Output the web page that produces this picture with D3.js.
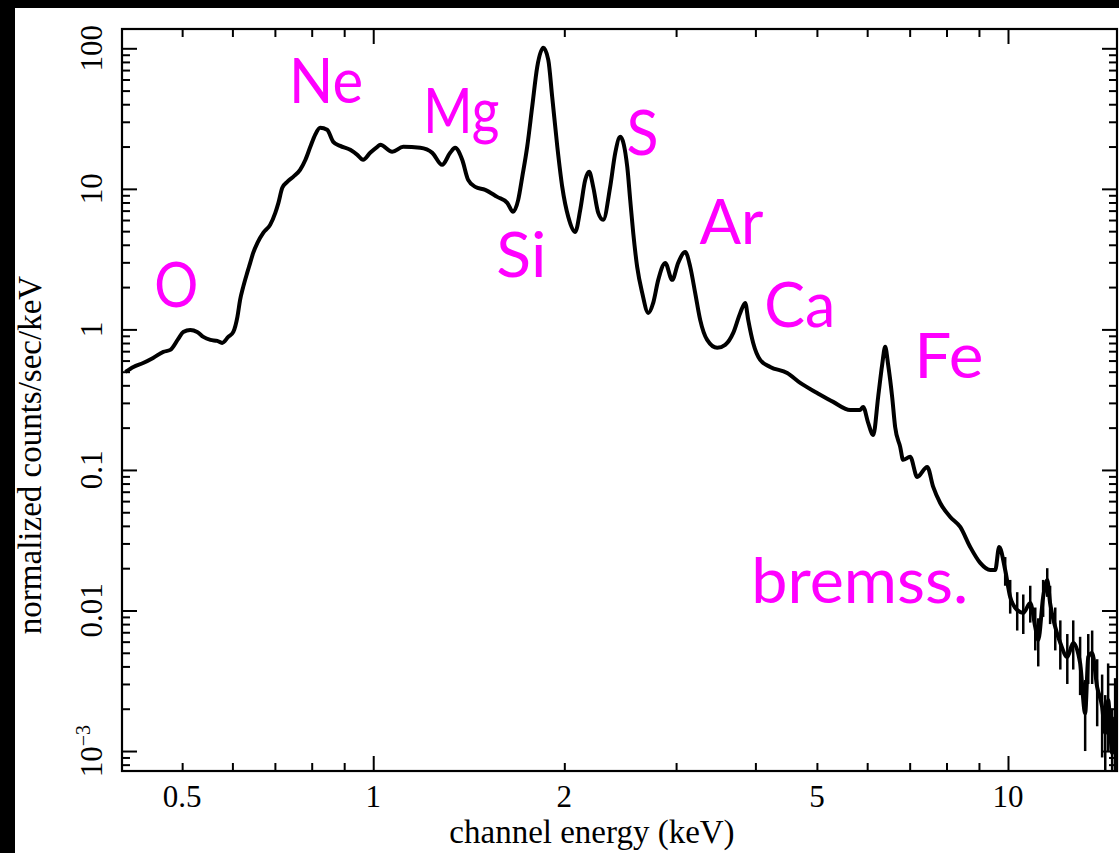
<!DOCTYPE html>
<html>
<head>
<meta charset="utf-8">
<script src="https://cdn.jsdelivr.net/npm/d3@7"></script>
<style>
  html, body { margin: 0; padding: 0; background: #000; }
  svg { display: block; }
</style>
</head>
<body>
<svg id="chart" width="1119" height="853"></svg>
<script>
// X-ray spectrum: channel energy (keV) vs normalized counts/sec/keV
const energy = [
  0.407, 0.419, 0.434, 0.450, 0.467, 0.479, 0.493, 0.502, 0.515, 0.528,
  0.540, 0.554, 0.568, 0.578, 0.591, 0.602, 0.611, 0.617, 0.624, 0.633,
  0.640, 0.647, 0.657, 0.671, 0.688, 0.701, 0.709, 0.719, 0.732, 0.748,
  0.767, 0.782, 0.796, 0.810, 0.825, 0.846, 0.865, 0.887, 0.920, 0.944,
  0.964, 0.989, 1.015, 1.026, 1.071, 1.115, 1.186, 1.239, 1.284, 1.322,
  1.346, 1.381, 1.411, 1.448, 1.501, 1.568, 1.626, 1.661, 1.692, 1.717,
  1.748, 1.780, 1.813, 1.853, 1.887, 1.914, 1.950, 1.985, 2.029, 2.081,
  2.119, 2.158, 2.189, 2.221, 2.262, 2.303, 2.362, 2.406, 2.450, 2.513,
  2.540, 2.568, 2.605, 2.653, 2.712, 2.761, 2.812, 2.884, 2.958, 3.023,
  3.101, 3.158, 3.215, 3.274, 3.358, 3.483, 3.585, 3.691, 3.786, 3.855,
  3.897, 3.968, 4.070, 4.221, 4.489, 4.706, 5.005, 5.304, 5.641, 5.850,
  5.913, 6.022, 6.133, 6.244, 6.335, 6.405, 6.475, 6.569, 6.641, 6.763,
  6.836, 7.012, 7.195, 7.460, 7.624, 7.820, 8.110, 8.409, 8.719, 9.041,
  9.376, 9.546, 9.685, 9.899, 10.08, 10.34, 10.57, 10.84, 11.04, 11.16,
  11.36, 11.53, 11.65, 11.87, 12.09, 12.40, 12.67, 12.99, 13.23, 13.38,
  13.57, 13.82, 14.07, 14.23, 14.38, 14.59, 14.75
];
const counts = [
  0.498, 0.541, 0.577, 0.627, 0.692, 0.715, 0.856, 0.960, 0.992, 0.960,
  0.884, 0.842, 0.828, 0.801, 0.884, 0.960, 1.227, 1.622, 2.007, 2.524,
  2.973, 3.503, 4.128, 4.862, 5.544, 6.749, 7.951, 10.17, 11.21, 12.17,
  13.65, 16.09, 19.90, 24.23, 27.19, 26.30, 21.60, 20.23, 18.95, 17.46,
  16.09, 18.04, 19.90, 20.57, 18.34, 19.90, 19.58, 18.04, 14.82, 18.04,
  19.58, 16.09, 11.59, 10.33, 9.84, 8.77, 7.95, 6.86, 8.35, 12.17,
  19.90, 38.34, 73.85, 100.8, 82.8, 45.15, 19.90, 10.33, 6.32, 4.94,
  7.09, 11.59, 13.21, 10.33, 6.75, 6.02, 10.33, 18.04, 23.45, 14.34,
  8.35, 4.86, 2.785, 1.819, 1.310, 1.544, 2.251, 2.973, 2.251, 2.973,
  3.561, 2.785, 1.819, 1.169, 0.842, 0.739, 0.776, 0.944, 1.310, 1.544,
  1.169, 0.801, 0.607, 0.541, 0.490, 0.416, 0.353, 0.305, 0.267, 0.267,
  0.281, 0.216, 0.177, 0.331, 0.559, 0.751, 0.559, 0.331, 0.202, 0.146,
  0.118, 0.124, 0.0892, 0.105, 0.0757, 0.0582, 0.0463, 0.0393, 0.0283, 0.0218,
  0.0194, 0.0194, 0.0283, 0.0194, 0.01248, 0.01008, 0.00960, 0.01131, 0.00763, 0.00617,
  0.01248, 0.01649, 0.01131, 0.00763, 0.00587, 0.00467, 0.00587, 0.00423, 0.00186, 0.00467,
  0.00498, 0.00285, 0.00206, 0.00134, 0.00231, 0.000968, 0.00175
];

// 1-sigma error bars for the faint high-energy channels
const errEnergy = [
  9.899, 10.08, 10.34, 10.57, 10.84, 11.04, 11.16, 11.36, 11.53, 11.65,
  11.87, 12.09, 12.40, 12.67, 12.99, 13.23, 13.38, 13.57, 13.82, 14.07,
  14.23, 14.38, 14.59, 14.75
];
const errLow = [
  0.0150, 0.0095, 0.0072, 0.0068, 0.0082, 0.0052, 0.0040, 0.0090, 0.0125, 0.0080,
  0.0052, 0.0038, 0.0030, 0.0038, 0.0025, 0.0010, 0.0030, 0.0030, 0.0015, 0.0009,
  0.0005, 0.0010, 0.0003, 0.0006
];
const errHigh = [
  0.0240, 0.0165, 0.0135, 0.0130, 0.0150, 0.0105, 0.0088, 0.0165, 0.0200, 0.0150,
  0.0105, 0.0085, 0.0068, 0.0085, 0.0065, 0.0032, 0.0068, 0.0072, 0.0045, 0.0035,
  0.0025, 0.0042, 0.0020, 0.0033
];

// axis ticks
const xTickLabels = [0.5, 1, 2, 5, 10];
const xMajorTicks = [1, 10];
const yTickLabels = [100, 10, 1, 0.1, 0.01, 0.001];

// emission-line annotations, anchored at (energy, counts)
const lineNames = ["O", "Ne", "Mg", "Si", "S", "Ar", "Ca", "Fe", "bremss."];
const lineLabelEnergy = [0.452, 0.737, 1.199, 1.563, 2.505, 3.265, 4.132, 7.12, 3.94];
const lineLabelCounts = [1.446, 40.9, 25.0, 2.364, 17.46, 4.06, 1.042, 0.4516, 0.01131];
const lineLabelWidth = [44, 74, 76, 50, 32, 64, 71, 69, 217];

const svg = d3.select("#chart");
const W = 1119, H = 853;

// white page inside a black border on the top and left
svg.append("rect").attr("x", 15).attr("y", 8).attr("width", W - 15).attr("height", H - 8).attr("fill", "#fff");

const plot = { left: 122, right: 1117, top: 29, bottom: 771 };

const x = d3.scaleLog().domain([0.402, 14.85]).range([plot.left, plot.right]);
const y = d3.scaleLog().domain([7.21e-4, 137.2]).range([plot.bottom, plot.top]);

function minorTicks(scale) {
  const [a, b] = scale.domain();
  const out = [];
  for (let e = Math.floor(Math.log10(a)); e <= Math.ceil(Math.log10(b)); e++) {
    for (let m = 2; m <= 9; m++) {
      const v = m * Math.pow(10, e);
      if (v >= a && v <= b) out.push(v);
    }
  }
  return out;
}
function majorTicks(scale) {
  const [a, b] = scale.domain();
  const out = [];
  for (let e = Math.floor(Math.log10(a)); e <= Math.ceil(Math.log10(b)); e++) {
    const v = Math.pow(10, e);
    if (v >= a && v <= b) out.push(v);
  }
  return out;
}

const axisStyle = g => {
  g.select(".domain").remove();
  g.selectAll("line").attr("stroke", "#000").attr("stroke-width", 2);
  g.selectAll("text").remove();
};

// bottom and top axes (ticks point into the plot)
[[plot.bottom, d3.axisBottom], [plot.top, d3.axisTop]].forEach(([yPos, mk]) => {
  svg.append("g").attr("transform", `translate(0,${yPos})`)
    .call(mk(x).tickValues(minorTicks(x)).tickSize(-8).tickFormat(""))
    .call(axisStyle);
  svg.append("g").attr("transform", `translate(0,${yPos})`)
    .call(mk(x).tickValues(xMajorTicks).tickSize(-15).tickFormat(""))
    .call(axisStyle);
});
// left and right axes
[[plot.left, d3.axisLeft], [plot.right, d3.axisRight]].forEach(([xPos, mk]) => {
  svg.append("g").attr("transform", `translate(${xPos},0)`)
    .call(mk(y).tickValues(minorTicks(y)).tickSize(-8).tickFormat(""))
    .call(axisStyle);
  svg.append("g").attr("transform", `translate(${xPos},0)`)
    .call(mk(y).tickValues(majorTicks(y)).tickSize(-15).tickFormat(""))
    .call(axisStyle);
});

// frame
svg.append("rect")
  .attr("x", plot.left).attr("y", plot.top)
  .attr("width", plot.right - plot.left).attr("height", plot.bottom - plot.top)
  .attr("fill", "none").attr("stroke", "#000").attr("stroke-width", 2.2);

const serif = "'Liberation Serif', 'Times New Roman', serif";

// x tick labels
svg.append("g").selectAll("text").data(xTickLabels).join("text")
  .attr("x", d => x(d)).attr("y", 807)
  .attr("text-anchor", "middle")
  .attr("font-family", serif).attr("font-size", 31).attr("fill", "#000")
  .text(d => String(d));

// y tick labels (rotated)
const yLab = svg.append("g").selectAll("text").data(yTickLabels).join("text")
  .attr("transform", d => `translate(102,${y(d)}) rotate(-90)`)
  .attr("text-anchor", "middle")
  .attr("font-family", serif).attr("font-size", 31).attr("fill", "#000");
yLab.each(function (d) {
  const t = d3.select(this);
  if (d < 0.005) {
    t.append("tspan").text("10");
    t.append("tspan").attr("dy", -12).attr("font-size", 20).text("\u22123");
  } else {
    t.text(String(d));
  }
});

// axis titles
svg.append("text")
  .attr("x", 592).attr("y", 843)
  .attr("text-anchor", "middle")
  .attr("font-family", serif).attr("font-size", 33).attr("fill", "#000")
  .text("channel energy (keV)");
svg.append("text")
  .attr("transform", `translate(41,${(plot.top + plot.bottom) / 2 + 55}) rotate(-90)`)
  .attr("text-anchor", "middle")
  .attr("font-family", serif).attr("font-size", 33).attr("fill", "#000")
  .text("normalized counts/sec/keV");

// spectrum
svg.append("clipPath").attr("id", "plotClip").append("rect")
  .attr("x", plot.left).attr("y", plot.top)
  .attr("width", plot.right - plot.left).attr("height", plot.bottom - plot.top);

const pts = energy.map((e, i) => [e, counts[i]]);
const line = d3.line().x(d => x(d[0])).y(d => y(d[1])).curve(d3.curveMonotoneX);
const spec = svg.append("g").attr("clip-path", "url(#plotClip)");
spec.append("path")
  .datum(pts)
  .attr("d", line)
  .attr("fill", "none")
  .attr("stroke", "#000")
  .attr("stroke-width", 4)
  .attr("stroke-linejoin", "round");

spec.append("g").selectAll("line").data(errEnergy).join("line")
  .attr("x1", d => x(d)).attr("x2", d => x(d))
  .attr("y1", (d, i) => y(errLow[i])).attr("y2", (d, i) => y(errHigh[i]))
  .attr("stroke", "#000").attr("stroke-width", 2.5);

// emission-line labels
svg.append("g").selectAll("text").data(lineNames).join("text")
  .attr("x", (d, i) => x(lineLabelEnergy[i]))
  .attr("y", (d, i) => y(lineLabelCounts[i]))
  .attr("textLength", (d, i) => lineLabelWidth[i])
  .attr("lengthAdjust", "spacingAndGlyphs")
  .attr("font-family", "Lato, 'DejaVu Sans', sans-serif")
  .attr("font-size", 62)
  .attr("fill", "#ff00ff")
  .text(d => d);
</script>
</body>
</html>
